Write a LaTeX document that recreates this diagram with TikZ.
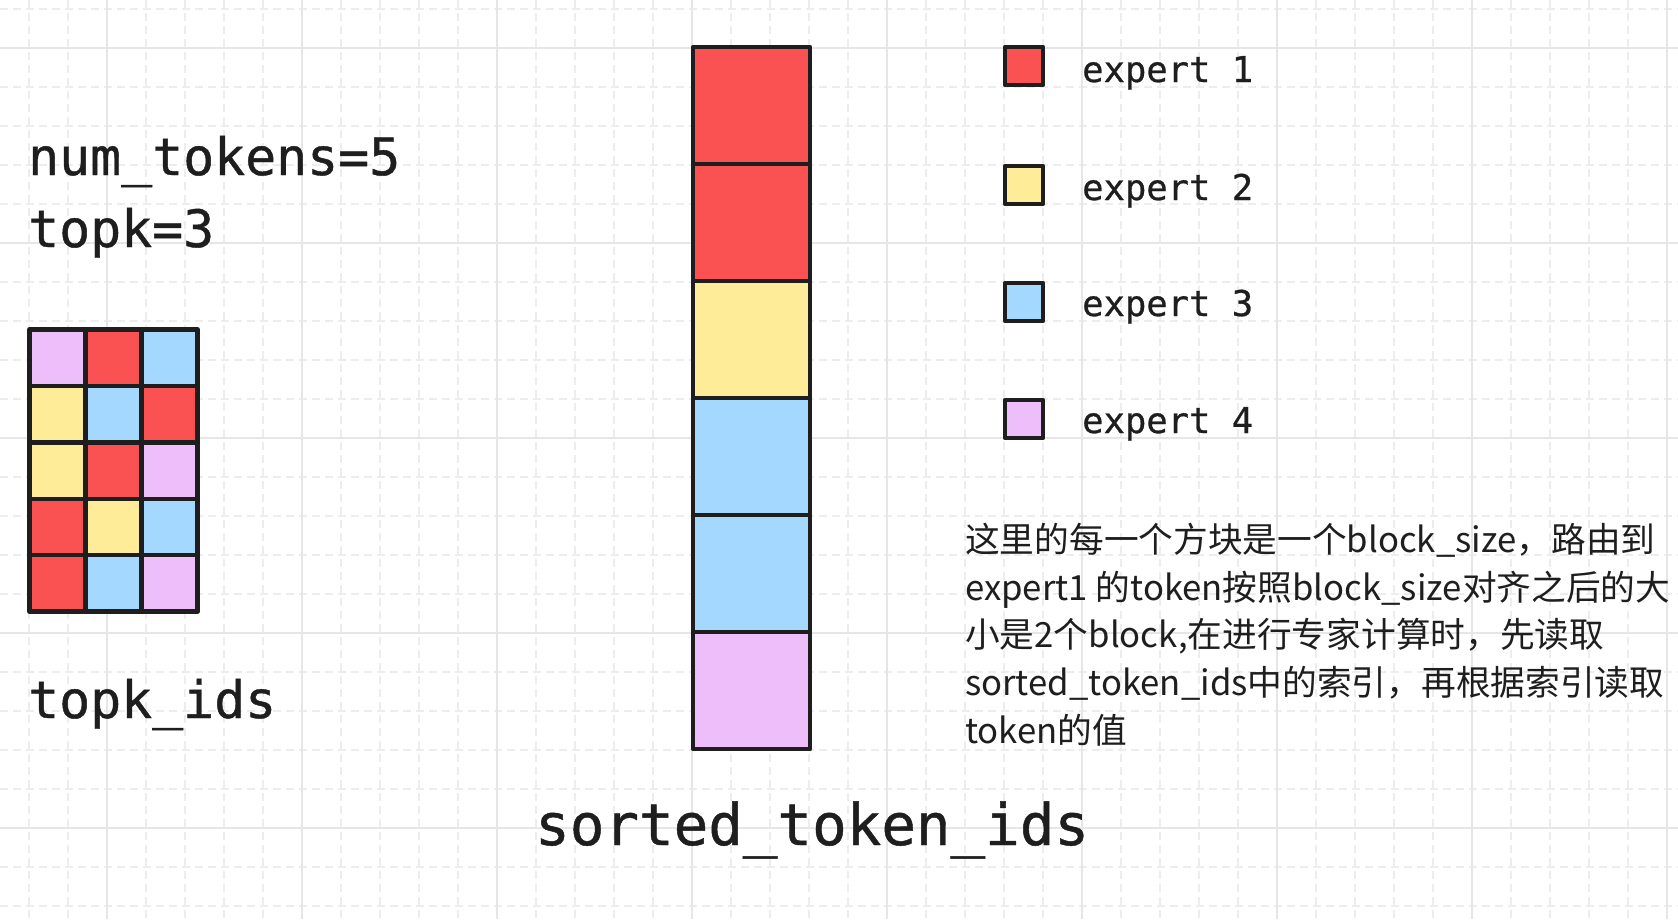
\documentclass[tikz,border=0pt]{standalone}
\usepackage{fontspec}
\setmainfont{Noto Sans CJK SC}
\newfontfamily\monofont[FakeBold=0.8]{DejaVu Sans Mono}
\newfontfamily\cjkfont{Noto Sans CJK SC}
\definecolor{ink}{HTML}{1E1E1E}
\definecolor{exred}{HTML}{FA5252}
\definecolor{exyel}{HTML}{FFEC99}
\definecolor{exblu}{HTML}{A5D8FF}
\definecolor{expur}{HTML}{EEBEFA}
\definecolor{gridminor}{HTML}{EDEDED}
\definecolor{gridmajor}{HTML}{E6E6E6}
\begin{document}
\begin{tikzpicture}[x=1pt,y=-1pt,
  minorline/.style={draw=gridminor, line width=1.2pt, dash pattern=on 8pt off 5pt},
  majorline/.style={draw=gridmajor, line width=1.6pt},
  cellbox/.style={draw=ink, line width=4.4pt, line join=round, minimum width=56pt, minimum height=56.4pt, inner sep=0pt, outer sep=0pt},
  blockbox/.style={draw=ink, line width=4.6pt, line join=round, minimum width=117pt, minimum height=117pt, inner sep=0pt, outer sep=0pt},
  legbox/.style={draw=ink, line width=4.6pt, line join=round, minimum width=38pt, minimum height=38pt, inner sep=0pt, outer sep=0pt},
  bigmono/.style={font=\monofont\fontsize{51.5}{60}\selectfont, text=ink, anchor=base west, inner sep=0pt},
  hugemono/.style={font=\monofont\fontsize{57.5}{66}\selectfont, text=ink, anchor=base west, inner sep=0pt},
  legtext/.style={font=\monofont\fontsize{35.5}{42}\selectfont, text=ink, anchor=base west, inner sep=0pt},
  note/.style={font=\cjkfont\fontsize{34.7}{47.7}\selectfont, text=ink, anchor=base west, inner sep=0pt}
]
\useasboundingbox[fill=white] (0,0) rectangle (1678,919);
% grid
\foreach \k in {0,...,42} { \draw[minorline] ({29+39*\k},0) -- ({29+39*\k},919); }
\foreach \k in {0,...,23} { \draw[minorline] (0,{9+39*\k}) -- (1678,{9+39*\k}); }
\foreach \k in {0,...,8} { \draw[majorline] ({107+195*\k},0) -- ({107+195*\k},919); }
\foreach \k in {0,...,4} { \draw[majorline] (0,{48+195*\k}) -- (1678,{48+195*\k}); }

% texts left
\node[bigmono] (numtok) at (28,175) {num\_tokens=5};
\node[bigmono] (topk) at (28,247) {topk=3};
\node[bigmono] (topkids) at (28,718) {topk\_ids};

% topk grid
\node[cellbox, fill=expur] (t11) at (57.5,357.7) {};
\node[cellbox, fill=exred] (t12) at (113.5,357.7) {};
\node[cellbox, fill=exblu] (t13) at (169.5,357.7) {};
\node[cellbox, fill=exyel] (t21) at (57.5,414.1) {};
\node[cellbox, fill=exblu] (t22) at (113.5,414.1) {};
\node[cellbox, fill=exred] (t23) at (169.5,414.1) {};
\node[cellbox, fill=exyel] (t31) at (57.5,470.5) {};
\node[cellbox, fill=exred] (t32) at (113.5,470.5) {};
\node[cellbox, fill=expur] (t33) at (169.5,470.5) {};
\node[cellbox, fill=exred] (t41) at (57.5,526.9) {};
\node[cellbox, fill=exyel] (t42) at (113.5,526.9) {};
\node[cellbox, fill=exblu] (t43) at (169.5,526.9) {};
\node[cellbox, fill=exred] (t51) at (57.5,583.3) {};
\node[cellbox, fill=exblu] (t52) at (113.5,583.3) {};
\node[cellbox, fill=expur] (t53) at (169.5,583.3) {};

% sorted column
\node[blockbox, fill=exred] (s1) at (751.5,105.5) {};
\node[blockbox, fill=exred] (s2) at (751.5,222.5) {};
\node[blockbox, fill=exyel] (s3) at (751.5,339.5) {};
\node[blockbox, fill=exblu] (s4) at (751.5,456.5) {};
\node[blockbox, fill=exblu] (s5) at (751.5,573.5) {};
\node[blockbox, fill=expur] (s6) at (751.5,690.5) {};
\node[hugemono] (sortedlbl) at (535,845) {sorted\_token\_ids};

% legend
\node[legbox, fill=exred] (l1) at (1024,66) {};
\node[legbox, fill=exyel] (l2) at (1024,185) {};
\node[legbox, fill=exblu] (l3) at (1024,302) {};
\node[legbox, fill=expur] (l4) at (1024,419) {};
\node[legtext] (e1) at (1082,82) {expert 1};
\node[legtext] (e2) at (1082,200) {expert 2};
\node[legtext] (e3) at (1082,316) {expert 3};
\node[legtext] (e4) at (1082,433) {expert 4};

% note
\node[note] (n1) at (965,552) {这里的每一个方块是一个block\_size，路由到};
\node[note] (n2) at (965,600) {expert1 的token按照block\_size对齐之后的大};
\node[note] (n3) at (965,647) {小是2个block,在进行专家计算时，先读取};
\node[note] (n4) at (965,695) {sorted\_token\_ids中的索引，再根据索引读取};
\node[note] (n5) at (965,743) {token的值};
\end{tikzpicture}
\end{document}
